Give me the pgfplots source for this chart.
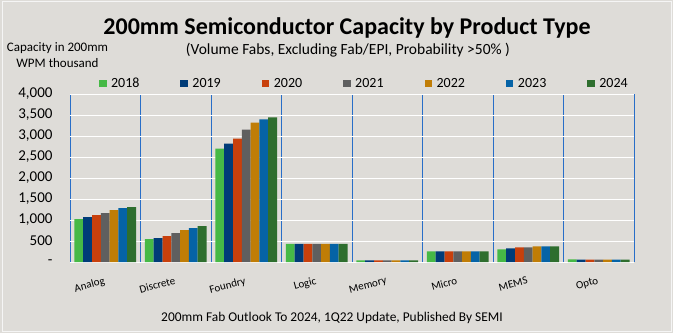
\documentclass[border=0pt]{standalone}
\usepackage{pgfplots}
\pgfplotsset{compat=1.18}
\usepackage{fontspec}
\setmainfont{Carlito}
\definecolor{bg}{RGB}{222,220,216}
\definecolor{c18}{RGB}{70,185,70}
\definecolor{c19}{RGB}{0,60,120}
\definecolor{c20}{RGB}{200,64,12}
\definecolor{c21}{RGB}{95,95,95}
\definecolor{c22}{RGB}{192,125,6}
\definecolor{c23}{RGB}{5,99,166}
\definecolor{c24}{RGB}{46,110,46}
\definecolor{sep}{RGB}{40,110,200}
\begin{document}
\begin{tikzpicture}[x=1pt,y=1pt]
\fill[bg] (0,0) rectangle (673,333);
\draw[white!92!gray, line width=1pt] (2,2) rectangle (671,331);
\node[font=\fontsize{24}{28}\selectfont\bfseries] at (347,305) {200mm Semiconductor Capacity by Product Type};
\node[font=\fontsize{15.5}{18}\selectfont] at (348,283) {(Volume Fabs, Excluding Fab/EPI, Probability >50\% )};
\node[font=\fontsize{13}{16}\selectfont, align=center] at (57.5,278) {Capacity in 200mm\\WPM thousand};
\node[font=\fontsize{13.4}{15}\selectfont] at (332,15) {200mm Fab Outlook To 2024, 1Q22 Update, Published By SEMI};
\begin{axis}[
  at={(70pt,71pt)}, anchor=south west,
  scale only axis, width=564pt, height=168pt,
  xmin=-0.5, xmax=7.5, ymin=0, ymax=4000,
  ybar=0pt, bar width=8.8pt,
  axis line style={draw=none},
  xtick={0,...,7},
  xticklabels={Analog,Discrete,Foundry,Logic,Memory,Micro,MEMS,Opto},
  major x tick style={draw=none},
  minor xtick={-0.5,0.5,...,7.5},
  minor x tick style={draw=none},
  minor x grid style={sep, line width=0.8pt},
  xminorgrids=true,
  xticklabel style={font=\fontsize{11}{12}\selectfont, rotate=15, anchor=north east, xshift=-1pt, yshift=-6pt},
  ytick={0,500,...,4000},
  yticklabels={-\hspace{8pt},500,{1,000},{1,500},{2,000},{2,500},{3,000},{3,500},{4,000}},
  yticklabel style={font=\fontsize{15}{16}\selectfont, xshift=-14pt},
  major y tick style={draw=none},
  ymajorgrids=true,
  major y grid style={white, line width=1pt},
  legend style={at={(0.522,1.0)}, anchor=south, yshift=1pt, draw=none, fill=none,
    legend columns=7, font=\fontsize{14}{16}\selectfont,
    /tikz/every even column/.append style={column sep=39pt}},
  legend image code/.code={\fill[#1] (0pt,-3.75pt) rectangle (7.5pt,3.75pt); \path (10pt,0pt);},
]
\addplot[fill=c18, draw=none] coordinates {(0,1022) (1,543) (2,2699) (3,431) (4,40) (5,255) (6,303) (7,62)};
\addplot[fill=c19, draw=none] coordinates {(0,1070) (1,567) (2,2818) (3,431) (4,40) (5,255) (6,327) (7,56)};
\addplot[fill=c20, draw=none] coordinates {(0,1118) (1,615) (2,2938) (3,431) (4,40) (5,255) (6,351) (7,56)};
\addplot[fill=c21, draw=none] coordinates {(0,1166) (1,687) (2,3154) (3,431) (4,40) (5,255) (6,351) (7,56)};
\addplot[fill=c22, draw=none] coordinates {(0,1237) (1,758) (2,3321) (3,431) (4,40) (5,255) (6,375) (7,56)};
\addplot[fill=c23, draw=none] coordinates {(0,1285) (1,806) (2,3393) (3,431) (4,40) (5,255) (6,375) (7,56)};
\addplot[fill=c24, draw=none] coordinates {(0,1309) (1,854) (2,3441) (3,431) (4,40) (5,255) (6,375) (7,56)};
\legend{2018,2019,2020,2021,2022,2023,2024}
\end{axis}
\end{tikzpicture}
\end{document}
